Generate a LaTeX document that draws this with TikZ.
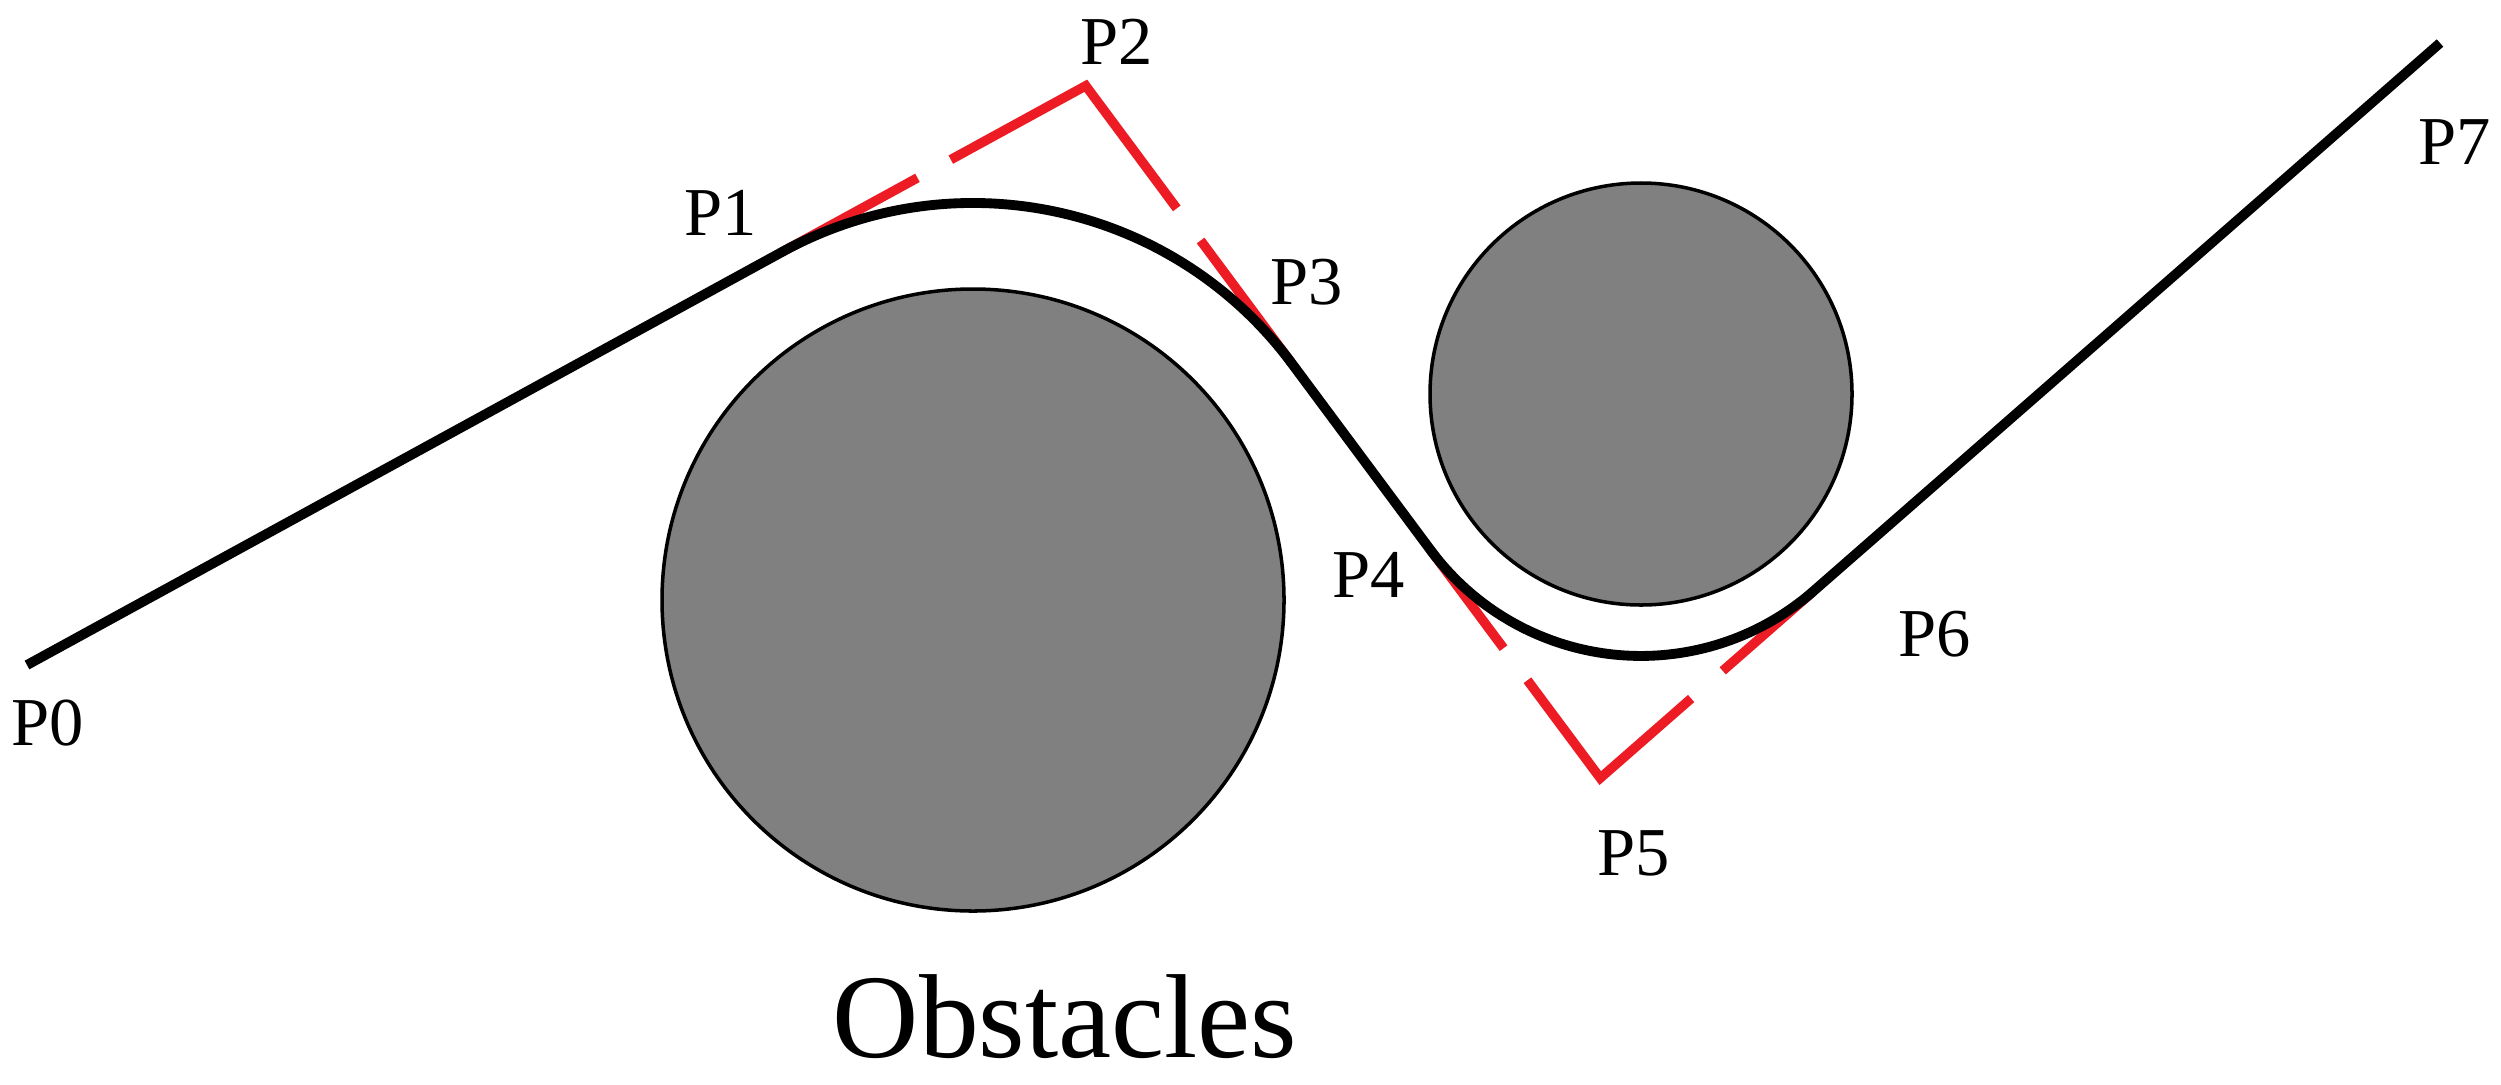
\documentclass[tikz,border=0pt]{standalone}
\usepackage{fontspec}
\setmainfont{Liberation Serif}
\usetikzlibrary{calc}
\definecolor{pathred}{RGB}{237,28,36}
\definecolor{obsgray}{RGB}{128,128,128}
\begin{document}
\begin{tikzpicture}[
  obstacle/.style={fill=obsgray, draw=black, line width=1pt},
  route/.style={draw=black, line width=2.8pt},
  ctrl/.style={draw=pathred, line width=2.7pt, line join=miter},
  lbl/.style={font=\fontsize{19.5}{23}\selectfont, inner sep=0pt},
  caption/.style={font=\fontsize{34}{40}\selectfont, inner sep=0pt, anchor=base}
]
\useasboundingbox (0,0) rectangle (25.01,10.84);
% obstacle centres
\coordinate (C1) at (9.73,4.84);
\coordinate (C2) at (16.41,6.90);
% path points
\coordinate (P0) at (0.27,4.19);
\coordinate (P1) at (7.825,8.323);
\coordinate (P3) at (12.916,7.209);
\coordinate (P4) at (14.307,5.337);
\coordinate (P6) at (18.136,4.928);
\coordinate (P7) at (24.40,10.41);
\coordinate (P2) at (intersection of P0--P1 and P3--P4);
\coordinate (P5) at (intersection of P3--P4 and P6--P7);

% obstacles
\draw[obstacle] (C1) circle[radius=3.11];
\draw[obstacle] (C2) circle[radius=2.11];

% gaps in the red control polygon
\coordinate (M12) at ($(P1)!0.5!(P2)$);
\coordinate (M23) at ($(P2)!0.5!(P3)$);
\coordinate (M45) at ($(P4)!0.5!(P5)$);
\coordinate (M56) at ($(P5)!0.5!(P6)$);
\coordinate (g12a) at ($(M12)!0.19cm!(P1)$);
\coordinate (g12b) at ($(M12)!0.19cm!(P2)$);
\coordinate (g23a) at ($(M23)!0.2cm!(P2)$);
\coordinate (g23b) at ($(M23)!0.2cm!(P3)$);
\coordinate (g45a) at ($(M45)!0.2cm!(P4)$);
\coordinate (g45b) at ($(M45)!0.2cm!(P5)$);
\coordinate (g56a) at ($(M56)!0.21cm!(P5)$);
\coordinate (g56b) at ($(M56)!0.21cm!(P6)$);

% red control polygon
\draw[ctrl] (P1) -- (g12a);
\draw[ctrl] (g12b) -- (P2) -- (g23a);
\draw[ctrl] (g23b) -- (P3);
\draw[ctrl] (P4) -- (g45a);
\draw[ctrl] (g45b) -- (P5) -- (g56a);
\draw[ctrl] (g56b) -- (P6);

% black route
\draw[route] (P0) -- (P1)
  arc[start angle=118.68, end angle=36.64, radius=3.97] -- (P4)
  arc[start angle=216.64, end angle=311.19, radius=2.62] -- (P7);

% labels
\node[lbl] (lP0) at (0.48,3.61) {P0};
\node[lbl] (lP1) at (7.21,8.71) {P1};
\node[lbl] (lP2) at (11.17,10.42) {P2};
\node[lbl] (lP3) at (13.07,8.02) {P3};
\node[lbl] (lP4) at (13.69,5.09) {P4};
\node[lbl] (lP5) at (16.34,2.31) {P5};
\node[lbl] (lP6) at (19.35,4.50) {P6};
\node[lbl] (lP7) at (24.55,9.42) {P7};
\node[caption] (obs) at (10.65,0.27) {Obstacles};
\end{tikzpicture}
\end{document}
